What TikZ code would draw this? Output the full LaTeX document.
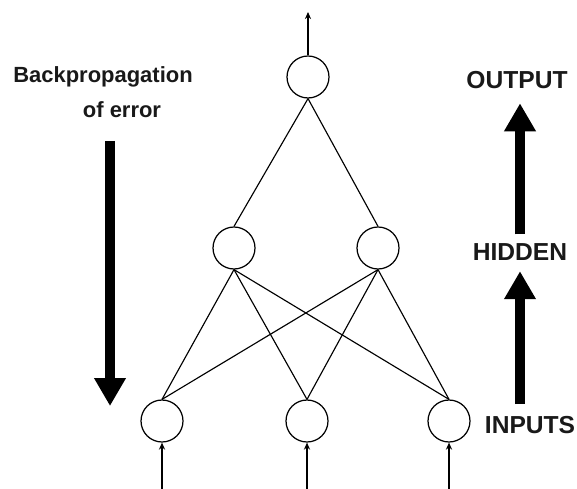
\documentclass[tikz,border=0pt]{standalone}
\usepackage{fontspec}
\setmainfont{Liberation Sans}
\usetikzlibrary{arrows.meta}

\tikzset{
  unit/.style={circle,draw,minimum size=0.84cm,inner sep=0pt,line width=0.7pt},
  lbl/.style={font=\bfseries\fontsize{12.5}{15}\selectfont,text=black!90},
  layer/.style={font=\bfseries\fontsize{14}{17}\selectfont,text=black!90},
  flow/.style={line width=5.2pt,-{Triangle[length=0.56cm,width=0.6cm]}},
  feed/.style={line width=0.7pt,-{Stealth[length=4pt,width=3.5pt]}}
}

\begin{document}
\begin{tikzpicture}[x=0.02cm,y=-0.02cm]
\useasboundingbox (0,0) rectangle (577,489);

% units of the net
\node[unit] (o)  at (308,77)  {};
\node[unit] (h1) at (234,248) {};
\node[unit] (h2) at (378,248) {};
\node[unit] (i1) at (162,421) {};
\node[unit] (i2) at (307,421) {};
\node[unit] (i3) at (449,421) {};

% loose ends of the signal lines
\coordinate (out) at (308,12);
\coordinate (in1) at (162,489);
\coordinate (in2) at (307,489);
\coordinate (in3) at (449,489);

\path[line width=0.65pt] (o.south) edge (h1.north) (o.south) edge (h2.north);
\foreach \h in {h1,h2}
  \foreach \i in {i1,i2,i3}
    \draw[line width=0.65pt] (\h.south) -- (\i.north);

\draw[feed] (o.north) -- (out);
\foreach \i in {1,2,3}
  \draw[feed] (in\i) -- (i\i.south);

% labels
\node[lbl,anchor=base] (bp)  at (103,83)  {Backpropagation};
\node[lbl,anchor=base] (err) at (122,118) {of error};
\node[layer] (outl) at (517,80.5) {OUTPUT};
\node[layer] (hid)  at (520,252.5) {HIDDEN};
\node[layer] (inl)  at (530,425) {INPUTS};

\coordinate (bp1) at (110,141);
\coordinate (bp2) at (110,406);
\draw[flow] (bp1) -- (bp2);

\draw[flow,shorten <=3.4pt,shorten >=2.3pt] (inl.north -| hid) -- (hid.south);
\draw[flow,shorten <=2pt,shorten >=4.5pt] (hid.north) -- (outl.south -| hid);

\end{tikzpicture}
\end{document}
